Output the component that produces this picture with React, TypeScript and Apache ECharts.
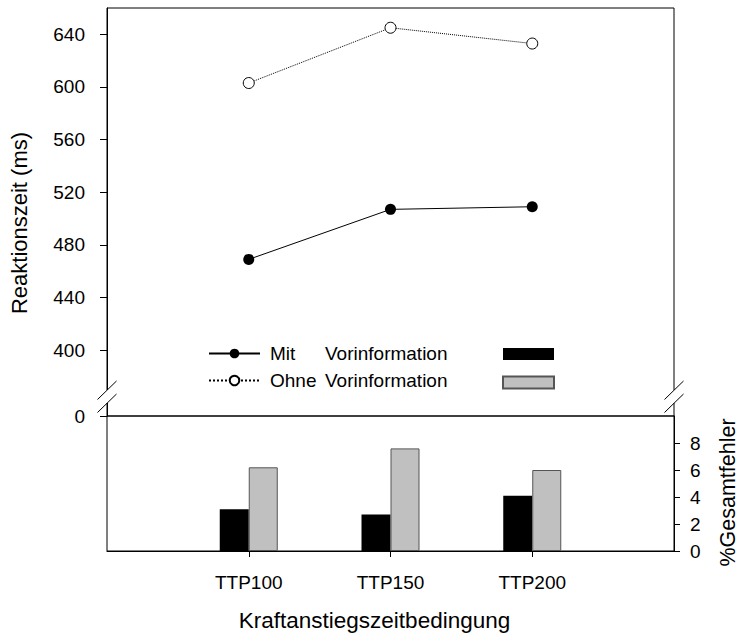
import React, { useEffect, useRef } from 'react';
import * as echarts from 'echarts';

// ---- data ----
const categories = ['TTP100', 'TTP150', 'TTP200'];
const lineNames = ['Mit Vorinformation', 'Ohne Vorinformation'];
const barNames = ['Fehler Mit Vorinformation', 'Fehler Ohne Vorinformation'];
const rtMit = [469, 507, 509];
const rtOhne = [603, 645, 633];
const errMit = [3.1, 2.7, 4.1];
const errOhne = [6.2, 7.6, 6.0];
const rtTicks = [400, 440, 480, 520, 560, 600, 640];
const errTicks = [0, 2, 4, 6, 8];
const rtAxisMin = 350; // bottom of broken axis, labelled "0"
const rtAxisMax = 660;
const errAxisMax = 10;

const FONT = 'Liberation Sans, Arial, Helvetica, sans-serif';

export default function App() {
  const ref = useRef<HTMLDivElement>(null);

  useEffect(() => {
    if (!ref.current) return;
    const chart = echarts.init(ref.current, undefined, { renderer: 'svg' });

    const gridLeft = 107;
    const gridRight = 65;
    const W = 739;
    const xL = gridLeft;
    const xR = W - gridRight;

    const breakMarks = (cx: number) => [
      { type: 'rect', z: 100, shape: { x: cx - 3, y: 390, width: 6, height: 13 }, style: { fill: '#fff' } },
      { type: 'line', z: 101, shape: { x1: cx - 9.5, y1: 399.5, x2: cx + 9.5, y2: 381 }, style: { stroke: '#000', lineWidth: 1 } },
      { type: 'line', z: 101, shape: { x1: cx - 9.5, y1: 412.5, x2: cx + 9.5, y2: 394 }, style: { stroke: '#000', lineWidth: 1 } },
    ];

    const axisLine = { show: true, onZero: false, lineStyle: { color: '#000', width: 1 } };
    const tickLine = { lineStyle: { color: '#000', width: 1 } };

    const option: any = {
      animation: false,
      backgroundColor: '#fff',
      textStyle: { fontFamily: FONT, color: '#000' },
      grid: [
        { left: gridLeft, right: gridRight, top: 8, bottom: 220, show: true, borderColor: '#000', borderWidth: 1, backgroundColor: 'transparent', outerBoundsMode: 'none', containLabel: false },
        { left: gridLeft, right: gridRight, top: 416, bottom: 85, show: true, borderColor: '#000', borderWidth: 1, backgroundColor: 'transparent', outerBoundsMode: 'none', containLabel: false },
      ],
      xAxis: [
        { gridIndex: 0, type: 'value', min: 0, max: categories.length + 1, show: false },
        {
          gridIndex: 1,
          type: 'value',
          position: 'bottom',
          min: 0,
          max: categories.length + 1,
          axisLine,
          axisTick: { show: true, customValues: categories.map((_, i) => i + 1), length: 6, inside: false, ...tickLine },
          axisLabel: {
            customValues: categories.map((_, i) => i + 1),
            formatter: (v: number) => categories[Math.round(v) - 1] ?? '',
            margin: 22,
            fontSize: 19,
            color: '#000',
            fontFamily: FONT,
          },
          splitLine: { show: false },
          name: 'Kraftanstiegszeitbedingung',
          nameLocation: 'middle',
          nameGap: 58,
          nameMoveOverlap: false,
          nameTextStyle: { fontSize: 22.5, color: '#000', fontFamily: FONT, padding: [0, 32, 0, 0] },
        },
      ],
      yAxis: [
        {
          gridIndex: 0,
          type: 'value',
          position: 'left',
          min: rtAxisMin,
          max: rtAxisMax,
          axisLine,
          axisTick: { show: true, customValues: [rtAxisMin, ...rtTicks], length: 7, inside: false, ...tickLine },
          axisLabel: {
            customValues: [rtAxisMin, ...rtTicks],
            formatter: (v: number) => (v === rtAxisMin ? '0' : String(v)),
            margin: 22,
            fontSize: 19,
            color: '#000',
            fontFamily: FONT,
          },
          splitLine: { show: false },
          name: 'Reaktionszeit (ms)',
          nameLocation: 'middle',
          nameGap: 77,
          nameMoveOverlap: false,
          nameTextStyle: { fontSize: 22, color: '#000', fontFamily: FONT, padding: [0, 22, 0, 0] },
        },
        {
          gridIndex: 1,
          type: 'value',
          position: 'right',
          min: 0,
          max: errAxisMax,
          axisLine,
          axisTick: { show: true, customValues: errTicks, length: 6, inside: false, ...tickLine },
          axisLabel: {
            customValues: errTicks,
            margin: 16,
            fontSize: 19,
            color: '#000',
            fontFamily: FONT,
          },
          splitLine: { show: false },
          name: '%Gesamtfehler',
          nameLocation: 'middle',
          nameGap: 43,
          nameMoveOverlap: false,
          nameTextStyle: { fontSize: 21.5, color: '#000', fontFamily: FONT, padding: [0, 18, 0, 0] },
        },
      ],
      legend: [
        {
          data: lineNames,
          orient: 'vertical',
          left: 208,
          top: 344,
          padding: 0,
          itemWidth: 51,
          itemHeight: 12,
          itemGap: 8,
          selectedMode: false,
          formatter: (name: string) => {
            const idx = name.indexOf(' ');
            return `{s|}{a|${name.slice(0, idx)}}{b|${name.slice(idx + 1)}}`;
          },
          textStyle: {
            fontSize: 19,
            lineHeight: 12,
            color: '#000',
            fontFamily: FONT,
            rich: {
              s: { width: 5, lineHeight: 12, fontSize: 19, fontFamily: FONT },
              a: { width: 55, lineHeight: 12, fontSize: 19, color: '#000', fontFamily: FONT },
              b: { lineHeight: 12, fontSize: 19, color: '#000', fontFamily: FONT },
            },
          },
        },
        {
          data: barNames,
          orient: 'vertical',
          left: 502,
          top: 348,
          padding: 0,
          itemWidth: 51,
          itemHeight: 12,
          itemGap: 15.5,
          icon: 'rect',
          selectedMode: false,
          formatter: () => '',
          textStyle: { fontSize: 12, lineHeight: 12 },
        },
      ],
      series: [
        {
          name: lineNames[0],
          type: 'line',
          xAxisIndex: 0,
          yAxisIndex: 0,
          data: rtMit.map((v, i) => [i + 1, v]),
          symbol: 'circle',
          symbolSize: 11,
          itemStyle: { color: '#000' },
          lineStyle: { color: '#000', width: 1 },
          z: 3,
        },
        {
          name: lineNames[1],
          type: 'line',
          xAxisIndex: 0,
          yAxisIndex: 0,
          data: rtOhne.map((v, i) => [i + 1, v]),
          symbol: 'circle',
          symbolSize: 11,
          itemStyle: { color: '#fff', borderColor: '#000', borderWidth: 1 },
          lineStyle: { color: '#000', width: 1, type: 'dotted' },
          z: 3,
        },
        {
          name: barNames[0],
          type: 'bar',
          xAxisIndex: 1,
          yAxisIndex: 1,
          data: errMit.map((v, i) => [i + 1, v]),
          barWidth: 29,
          barGap: '0%',
          itemStyle: { color: '#000' },
        },
        {
          name: barNames[1],
          type: 'bar',
          xAxisIndex: 1,
          yAxisIndex: 1,
          data: errOhne.map((v, i) => [i + 1, v]),
          barWidth: 29,
          barGap: '0%',
          itemStyle: { color: '#c0c0c0', borderColor: '#555', borderWidth: 1 },
        },
      ],
      graphic: [...breakMarks(xL), ...breakMarks(xR)],
    };

    chart.setOption(option);
    return () => chart.dispose();
  }, []);

  return (
    <div
      ref={ref}
      style={{ position: 'absolute', left: 0, top: 0, width: 739, height: 636, background: '#fff' }}
    />
  );
}
